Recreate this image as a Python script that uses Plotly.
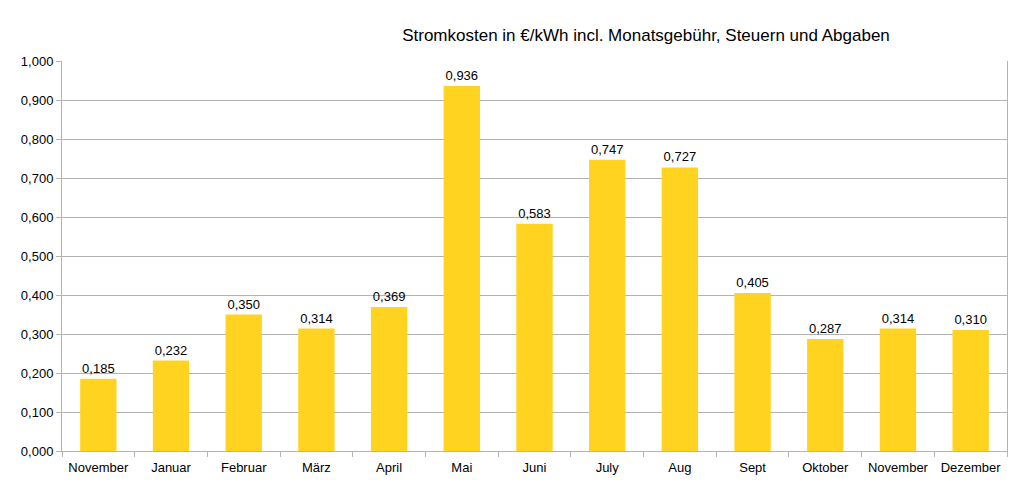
import plotly.graph_objects as go

months = ["November", "Januar", "Februar", "März", "April", "Mai", "Juni",
          "July", "Aug", "Sept", "Oktober", "November", "Dezember"]
costs = [0.185, 0.232, 0.350, 0.314, 0.369, 0.936, 0.583, 0.747, 0.727,
         0.405, 0.287, 0.314, 0.310]
y_ticks = [0.0, 0.1, 0.2, 0.3, 0.4, 0.5, 0.6, 0.7, 0.8, 0.9, 1.0]

xpos = list(range(len(months)))

fig = go.Figure(go.Bar(
    x=xpos, y=costs,
    marker=dict(color="#FFD320", line=dict(width=0)),
    width=0.5,
    texttemplate="%{y:.3f}", textposition="outside",
    textfont=dict(family="Liberation Sans", size=13, color="#000000"),
    cliponaxis=False,
    hoverinfo="skip",
))

fig.update_layout(
    width=1029, height=487,
    margin=dict(l=54, r=30, t=53, b=44),
    paper_bgcolor="white", plot_bgcolor="white",
    separators=",.",
    showlegend=False,
    font=dict(family="Liberation Sans", size=13, color="#000000"),
    title=dict(text="Stromkosten in €/kWh incl. Monatsgebühr, Steuern und Abgaben",
               x=0.62, xanchor="center", y=0.9446, yanchor="middle",
               font=dict(family="Liberation Sans", size=17, color="#000000")),
)

fig.update_xaxes(
    range=[-0.5, len(months) - 0.5],
    tickmode="array", tickvals=xpos, ticktext=months,
    ticks="", showgrid=False, zeroline=False,
    showline=True, linecolor="#b3b3b3", linewidth=1,
    ticklabelstandoff=4,
    tickfont=dict(family="Liberation Sans", size=13, color="#000000"),
    minor=dict(tickmode="array", tickvals=[i - 0.5 for i in range(len(months) + 1)],
               ticks="outside", ticklen=5, tickcolor="#b3b3b3", tickwidth=1,
               showgrid=False),
    fixedrange=True,
)

fig.update_yaxes(
    range=[0, 1.0],
    tickmode="array", tickvals=y_ticks, tickformat=".3f",
    showgrid=True, gridcolor="#b3b3b3", gridwidth=1,
    zeroline=False,
    showline=True, linecolor="#b3b3b3", linewidth=1, mirror=True,
    ticks="outside", ticklen=5, tickcolor="#b3b3b3",
    tickfont=dict(family="Liberation Sans", size=13, color="#000000"),
    fixedrange=True,
)

fig.write_html("out.html")
